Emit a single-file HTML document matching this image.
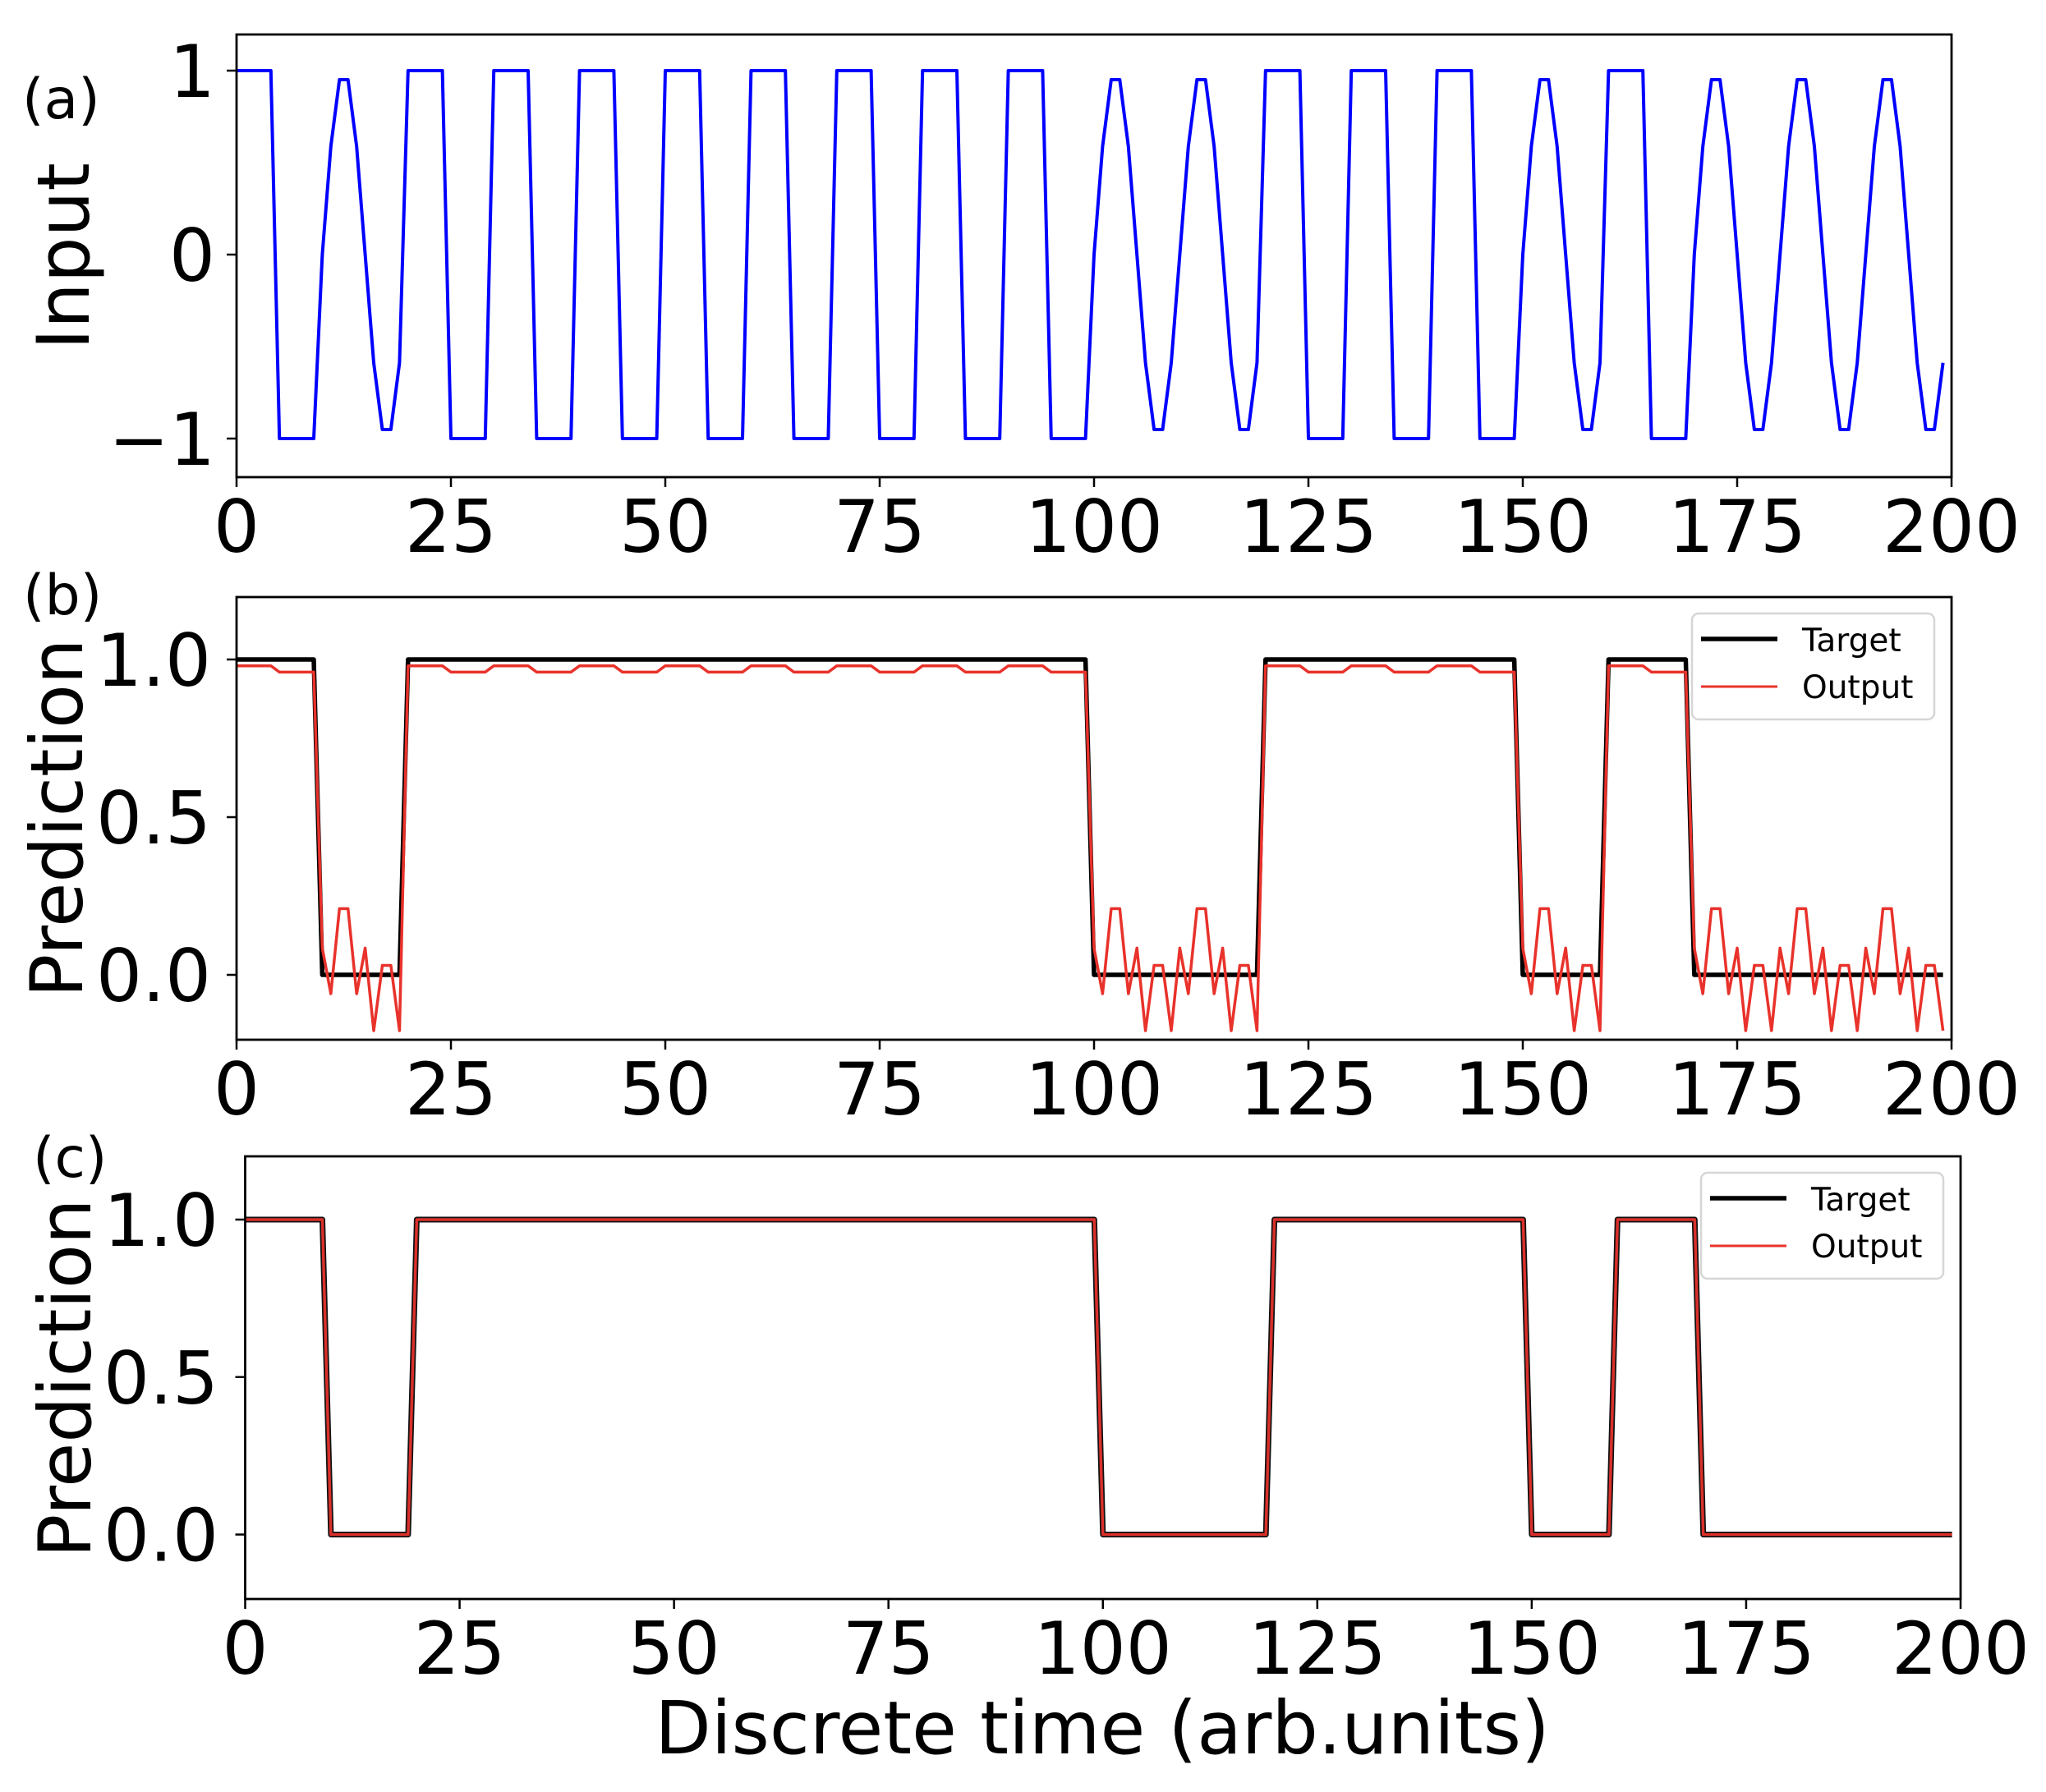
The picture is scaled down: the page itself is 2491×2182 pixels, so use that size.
<!DOCTYPE html>
<html><head><meta charset="utf-8"><style>
html,body{margin:0;padding:0;background:#fff}
svg{display:block}
text{font-family:"DejaVu Sans","Liberation Sans",sans-serif;fill:#000}
</style></head><body>
<svg id="s" width="2491" height="2182" viewBox="0 0 2491 2182" xmlns="http://www.w3.org/2000/svg">
<rect width="2491" height="2182" fill="#fff"/>
<g id="g"></g>
<text x="27" y="144" font-size="68">(a)</text>
<text x="28" y="748" font-size="68">(b)</text>
<text x="40" y="1433" font-size="68">(c)</text>
<text transform="translate(108,312) rotate(-90)" font-size="88" text-anchor="middle">Input</text>
<text transform="translate(100,996) rotate(-90)" font-size="88" text-anchor="middle">Prediction</text>
<text transform="translate(110,1678) rotate(-90)" font-size="88" text-anchor="middle">Prediction</text>
<text x="1342" y="2135" font-size="89" text-anchor="middle">Discrete time (arb.units)</text>
</svg>
<script>
var NS="http://www.w3.org/2000/svg",G=document.getElementById('g');
function el(t,a,txt){var e=document.createElementNS(NS,t);for(var k in a)e.setAttribute(k,a[k]);if(txt!==undefined)e.textContent=txt;G.appendChild(e);return e;}
var types="SNSSSSSSSSNNSSSNSNNN";
var inp=[],tgt=[],out=[];
var nz=[0.085,-0.06,0.21,0.21,-0.06,0.085,-0.177,0.03,0.03,-0.177];
for(var i=0;i<200;i++){var s=Math.floor(i/10),k=i%10;
 if(types[s]=='S'){inp.push(k<5?1:-1);tgt.push(1);out.push(k<5?0.98:0.96);}
 else{inp.push(Math.sin(2*Math.PI*k/10));tgt.push(0);out.push(nz[k]);}}
function panel(L,R,T,B,yv0,ypu,yticks,ylabR,series,legend){
 var sx=(R-L)/200;
 function X(v){return L+v*sx}function Y(v){return yv0-v*ypu}
 el('clipPath',{id:'c'+T}).appendChild((function(){var r=document.createElementNS(NS,'rect');r.setAttribute('x',L);r.setAttribute('y',T);r.setAttribute('width',R-L);r.setAttribute('height',B-T);return r;})());
 series.forEach(function(sr){var p=sr.d.map(function(v,i){return X(i).toFixed(1)+','+Y(v).toFixed(1)}).join(' ');
  el('polyline',{points:p,fill:'none',stroke:sr.c,'stroke-width':sr.w,'stroke-linejoin':'round','clip-path':'url(#c'+T+')'});});
 el('rect',{x:L,y:T,width:R-L,height:B-T,fill:'none',stroke:'#000','stroke-width':2.8});
 for(var t=0;t<=200;t+=25){el('line',{x1:X(t),y1:B,x2:X(t),y2:B+12,stroke:'#000','stroke-width':2.5});
  el('text',{x:X(t),y:B+91,'font-size':88,'text-anchor':'middle'},String(t));}
 yticks.forEach(function(t){el('line',{x1:L-12,y1:Y(t[0]),x2:L,y2:Y(t[0]),stroke:'#000','stroke-width':2.5});
  el('text',{x:ylabR,y:Y(t[0])+32,'font-size':88,'text-anchor':'end'},t[1]);});
 if(legend){var lx=R-21-295,ly=T+20;
  el('rect',{x:lx,y:ly,width:295,height:129,rx:8,fill:'#fff','fill-opacity':0.85,stroke:'#d6d6d6','stroke-width':2.5});
  el('line',{x1:lx+11,y1:ly+31,x2:lx+104,y2:ly+31,stroke:'#000','stroke-width':5.5});
  el('line',{x1:lx+11,y1:ly+89,x2:lx+104,y2:ly+89,stroke:'#e8322b','stroke-width':3});
  el('text',{x:lx+134,y:ly+46,'font-size':39},'Target');
  el('text',{x:lx+134,y:ly+103,'font-size':39},'Output');}
}
panel(288,2376,42,581,310,224,[[1,'1'],[0,'0'],[-1,'\u22121']],262,[{d:inp,c:'#0000ff',w:4}],false);
panel(288,2376,727,1266,1187,384,[[1,'1.0'],[0.5,'0.5'],[0,'0.0']],257,[{d:tgt,c:'#000',w:5.5},{d:out,c:'#e8322b',w:3.5}],true);
panel(298.5,2387,1408,1947,1868.5,383.5,[[1,'1.0'],[0.5,'0.5'],[0,'0.0']],266,[{d:tgt,c:'#111',w:7},{d:tgt,c:'#d9302a',w:3.5}],true);
</script>
</body></html>
